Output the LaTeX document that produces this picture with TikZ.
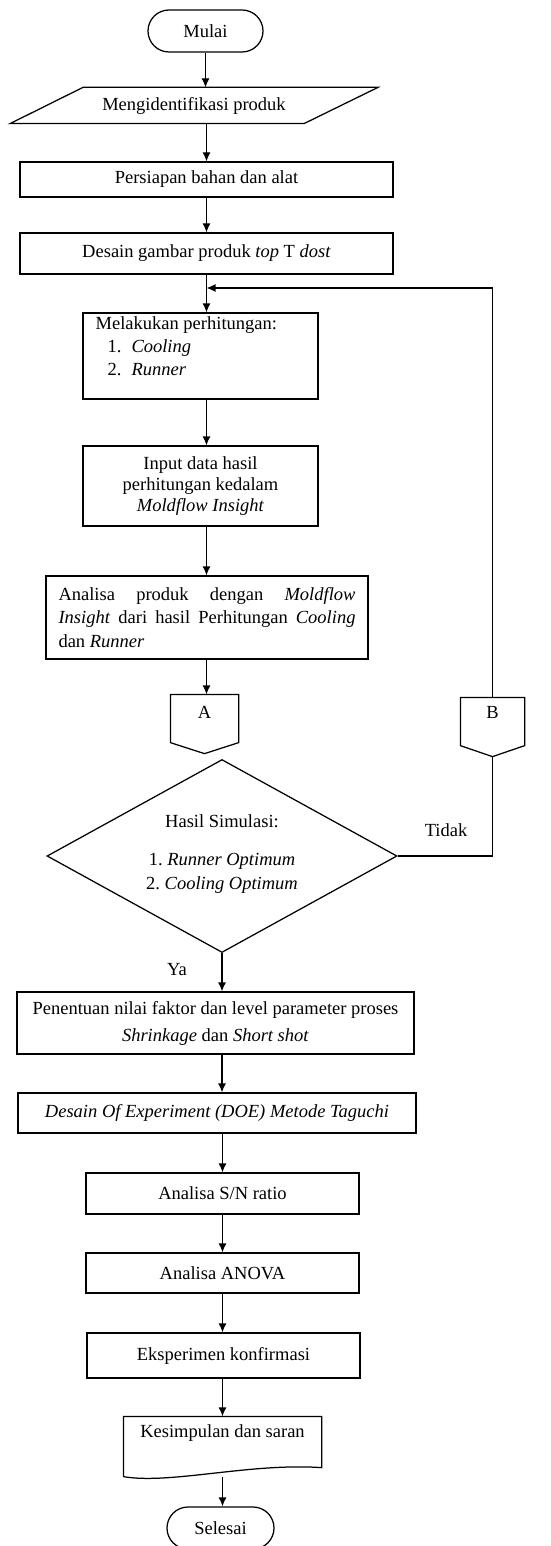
\documentclass[tikz,border=0pt]{standalone}
\usepackage{fontspec}
\setmainfont{Liberation Serif}
\usetikzlibrary{arrows.meta,shapes.geometric,calc}
\begin{document}
\begin{tikzpicture}[x=1pt,y=-1pt,line width=1.25pt,
  txt/.style={font=\fontsize{18.5}{21}\selectfont, inner sep=0pt},
  proc/.style={txt, draw, align=center},
  conn/.style={-{Latex[length=9pt,width=8pt]}}]
\useasboundingbox (0,0) rectangle (550,1546);
% start
\node[proc, rounded corners=21pt, minimum width=115pt, minimum height=42pt] (start) at (205.5,31) {Mulai};
% parallelogram
\node[txt, minimum height=35pt] (ident) at (194,105.5) {Mengidentifikasi produk};
\draw ($(ident.north)+(-111,0)$) -- ($(ident.north)+(184,0)$) -- ($(ident.south)+(110,0)$) -- ($(ident.south)+(-184,0)$) -- cycle;
\node[proc, minimum width=373pt, minimum height=35pt] (prep) at (206.5,179.5) {Persiapan bahan dan alat};
\node[proc, minimum width=373pt, minimum height=41pt] (design) at (206.5,253.5) {Desain gambar produk \textit{top} T \textit{dost}};
\node[draw, minimum width=235pt, minimum height=86pt] (calc) at (200.5,356) {};
\node[txt, font=\fontsize{18.5}{23}\selectfont, anchor=north west, align=left] (calct) at (95,316) {Melakukan perhitungan:\\\hspace*{12pt}1.\hspace{10pt}\textit{Cooling}\\\hspace*{12pt}2.\hspace{10pt}\textit{Runner}};
\node[proc, minimum width=235pt, minimum height=80pt] (input) at (200.5,486) {Input data hasil\\perhitungan kedalam\\\textit{Moldflow Insight}};
\node[txt, draw, minimum width=322pt, minimum height=83pt, text width=297pt, align=justify, font=\fontsize{18.5}{23.5}\selectfont] (anal) at (207,617.5) {Analisa produk dengan \textit{Moldflow}\linebreak \textit{Insight} dari hasil Perhitungan \textit{Cooling}\linebreak dan \textit{Runner}};
% connector A
\node[minimum width=67pt, minimum height=58pt] (A) at (204.5,724) {};
\draw (A.north west) -- (A.north east) -- ($(A.south east)+(0,-11)$) -- (A.south) -- ($(A.south west)+(0,-11)$) -- cycle;
\node[txt] (At) at (204.5,712) {A};
% decision
\node[draw, diamond, aspect=1.8, inner sep=0pt, minimum width=350pt, minimum height=193pt] (dec) at (222,856) {};
\node[txt, align=center, font=\fontsize{18.5}{24}\selectfont] (dect) at (222,854) {Hasil Simulasi:\\[14pt]1.~\textit{Runner Optimum}\\2.~\textit{Cooling Optimum}};
% connector B
\node[minimum width=63pt, minimum height=58pt] (B) at (492.5,727) {};
\draw (B.north west) -- (B.north east) -- ($(B.south east)+(0,-11)$) -- (B.south) -- ($(B.south west)+(0,-11)$) -- cycle;
\node[txt] (Bt) at (492.5,712) {B};
\node[txt] (tidak) at (446,830) {Tidak};
\node[txt] (ya) at (177,970) {Ya};
\node[proc, minimum width=397pt, minimum height=62pt] (pen) at (215.5,1023) {Penentuan nilai faktor dan level parameter proses\\[6pt]\textit{Shrinkage} dan \textit{Short shot}};
\node[proc, minimum width=398pt, minimum height=40pt] (doe) at (217,1113) {\textit{Desain Of Experiment (DOE) Metode Taguchi}};
\node[proc, minimum width=273pt, minimum height=41pt] (sn) at (222.5,1193.5) {Analisa S/N ratio};
\node[proc, minimum width=273pt, minimum height=40pt] (anova) at (222.5,1273) {Analisa ANOVA};
\node[proc, minimum width=273pt, minimum height=45pt] (eks) at (223.5,1355.5) {Eksperimen konfirmasi};
% document
\node[minimum width=197pt, minimum height=59pt] (doc) at (222.5,1446.5) {};
\draw (doc.south west) -- (doc.north west) -- (doc.north east) -- ($(doc.south east)+(0,-9)$) .. controls ($(doc.south)+(27.5,-14)$) and ($(doc.south)+(-52.5,8)$) .. (doc.south west);
\node[txt] (doct) at (222.5,1433) {Kesimpulan dan saran};
\node[proc, rounded corners=21pt, minimum width=107pt, minimum height=42pt] (end) at (220.5,1528) {Selesai};
% connectors
\coordinate (jy) at (0,288);
\coordinate (j) at (design.south |- jy);
\draw[conn] (start.south) -- (start.south |- ident.north);
\draw[conn] (prep.north |- ident.south) -- (prep.north);
\draw[conn] (prep.south) -- (design.north);
\draw[conn] (design.south) -- (design.south |- calc.north);
\draw[conn] (B.north) |- (j);
\draw[conn] (j |- calc.south) -- (j |- input.north);
\draw[conn] (j |- input.south) -- (j |- anal.north);
\draw[conn] (j |- anal.south) -- (j |- A.north);
\draw (dec.east) -| (B.south);
\draw[conn] (dec.south) -- (dec.south |- pen.north);
\draw[conn] (dec.south |- pen.south) -- (dec.south |- doe.north);
\draw[conn] (sn.north |- doe.south) -- (sn.north);
\draw[conn] (sn.south) -- (anova.north);
\draw[conn] (anova.south) -- (anova.south |- eks.north);
\draw[conn] (anova.south |- eks.south) -- (anova.south |- doc.north);
\draw[conn] (doc.south) -- (doc.south |- end.north);
\end{tikzpicture}
\end{document}
